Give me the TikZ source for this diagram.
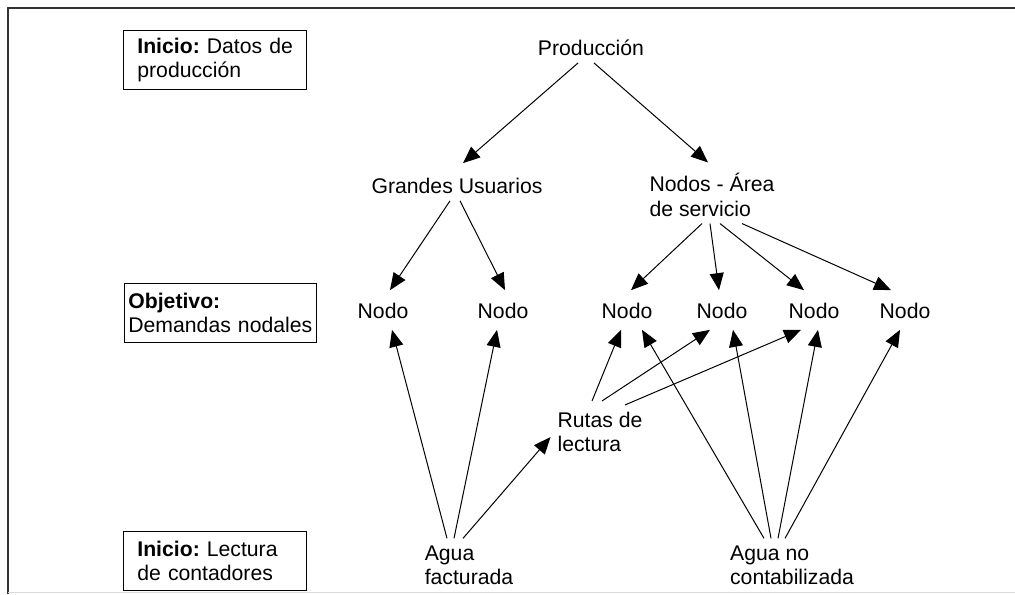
\documentclass[tikz,border=0pt]{standalone}
\usepackage{fontspec}
\setmainfont{Liberation Sans}
\usetikzlibrary{arrows.meta}

\begin{document}
\begin{tikzpicture}[x=0.5pt, y=-0.5pt, >={Triangle[length=8.5pt, width=7pt]},
    font=\fontsize{10.6}{12.2}\selectfont,
    lbl/.style={align=left},
    lbox/.style={draw, thin, anchor=north west, align=left, text width=77.5pt, inner xsep=7pt, minimum height=29.5pt},
    arr/.style={->, line width=0.5pt}]
        \useasboundingbox (0,0) rectangle (1015,594);

        % Frame
        \draw[line width=0.8pt, black!80] (1015,8) -- (8,8) -- (8,594);
        \draw[gray!30] (8,592) -- (1015,592);

        % Level boxes
        \node[lbox] (ini) at (123,30) {\textbf{Inicio:}~Datos~de\\producción};
        \node[lbox, text width=92pt, inner xsep=2pt] (obj) at (124,283) {\textbf{Objetivo:}\\Demandas~nodales};
        \node[lbox] (lec) at (123,531) {\textbf{Inicio:}~Lectura\\de~contadores};

        % Top of the tree
        \node (prod) at (591,48) {Producción};
        \node (gu) at (457,186) {Grandes Usuarios};
        \node[lbl] (area) at (712,195) {Nodos - Área\\de servicio};

        % Demand nodes
        \node (n1) at (383,311) {Nodo};
        \node (n2) at (503,311) {Nodo};
        \node (n3) at (627,311) {Nodo};
        \node (n4) at (722,311) {Nodo};
        \node (n5) at (814,311) {Nodo};
        \node (n6) at (905,311) {Nodo};

        % Meter readings
        \node[lbl] (rl) at (600,432) {Rutas de\\lectura};
        \node[lbl] (af) at (469,565) {Agua\\facturada};
        \node[lbl] (anc) at (792,565) {Agua no\\contabilizada};

        % Production split
        \draw[arr] ([xshift=-6.5pt]prod.south) -- ([xshift=3pt, yshift=4pt]gu.north);
        \draw[arr] ([xshift=1.5pt]prod.south) -- ([xshift=-2pt, yshift=2pt]area.north);

        % Down to the nodes
        \draw[arr] ([xshift=-3.5pt]gu.south) -- ([xshift=3.5pt, yshift=3pt]n1.north);
        \draw[arr] ([xshift=1.5pt]gu.south) -- ([xshift=1pt, yshift=3pt]n2.north);
        \draw[arr] ([xshift=-5pt]area.south) -- ([xshift=2pt, yshift=3pt]n3.north);
        \draw[arr] ([xshift=-1pt]area.south) -- ([xshift=-1.5pt, yshift=3pt]n4.north);
        \draw[arr] ([xshift=4pt]area.south) -- ([xshift=-5pt, yshift=3pt]n5.north);
        \draw[arr] ([xshift=15pt]area.south) -- ([xshift=-7pt, yshift=3pt]n6.north);

        % Billed water
        \draw[arr] ([xshift=-11pt]af.north) -- ([xshift=4.5pt, yshift=-2pt]n1.south);
        \draw[arr] ([xshift=-7.5pt]af.north) -- ([xshift=-3pt, yshift=-2pt]n2.south);
        \draw[arr] ([xshift=-3pt]af.north) -- ([yshift=-2.5pt]rl.west);

        % Reading routes
        \draw[arr] ([xshift=-4pt, yshift=2pt]rl.north) -- ([xshift=-3pt, yshift=-2pt]n3.south);
        \draw[arr] ([xshift=1pt, yshift=2pt]rl.north) -- ([xshift=-6pt, yshift=-2pt]n4.south);
        \draw[arr] ([xshift=12.5pt]rl.north) -- ([xshift=-6.5pt, yshift=-2pt]n5.south);

        % Non-revenue water
        \draw[arr] ([xshift=-14pt]anc.north) -- ([xshift=7.5pt, yshift=-2pt]n3.south);
        \draw[arr] ([xshift=-10.5pt]anc.north) -- ([xshift=5.5pt, yshift=-2pt]n4.south);
        \draw[arr] ([xshift=-7pt]anc.north) -- ([xshift=2pt, yshift=-2pt]n5.south);
        \draw[arr] ([xshift=-3.5pt]anc.north) -- ([xshift=-2.5pt, yshift=-2pt]n6.south);
\end{tikzpicture}
\end{document}
